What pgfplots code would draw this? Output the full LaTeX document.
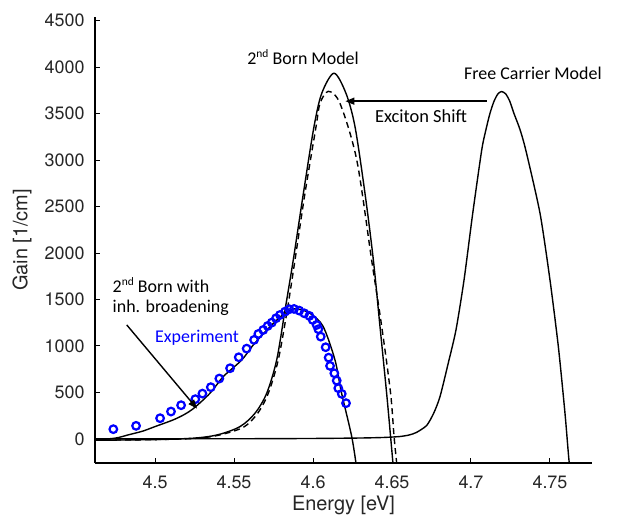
\documentclass[border=0pt]{standalone}
\usepackage{fontspec}
\setmainfont{TeX Gyre Heros}
\newfontfamily\calfont{Carlito}
\usepackage{pgfplots}
\pgfplotsset{compat=1.18}
\usetikzlibrary{arrows.meta}
\definecolor{expblue}{RGB}{0,0,255}
\newcommand{\sups}[1]{\raisebox{0.42em}{\fontsize{11.5}{11.5}\selectfont #1}}

\pgfplotstableread{
E G
4.462 0
4.55 1
4.6 4
4.63 9
4.645 15
4.655 25
4.661 42
4.6656 70
4.672 145
4.6765 280
4.6804 455
4.6856 814
4.6905 1172
4.6956 1710
4.7011 2427
4.7068 3110
4.7095 3330
4.7120 3502
4.7145 3630
4.7170 3712
4.7194 3738
4.7220 3712
4.7245 3635
4.7272 3502
4.7310 3330
4.7348 3100
4.7437 2427
4.7500 1710
4.7553 992
4.7595 276
4.7620 -226
4.7640 -500
}\freecarrier

\pgfplotstableread{
E G
4.462 -15
4.5 -8
4.525 8
4.5400 45
4.5538 132
4.5633 276
4.5707 491
4.5770 849
4.5823 1387
4.5875 1925
4.5939 2642
4.6006 3358
4.6055 3717
4.6133 3935
4.6209 3717
4.6266 3358
4.6329 2642
4.6382 1925
4.6424 1208
4.6466 491
4.6491 25
4.6508 -300
}\bornsolid

\pgfplotstableread{
E G
4.462 -15
4.5 -8
4.525 5
4.5400 38
4.5560 125
4.5650 276
4.5717 491
4.5780 849
4.5837 1387
4.5886 1925
4.5949 2642
4.6019 3358
4.6044 3609
4.6097 3740
4.6171 3609
4.6277 3000
4.6371 1925
4.6435 1208
4.6491 491
4.6513 25
4.6532 -300
}\borndashed

\pgfplotstableread{
E G
4.462 -12
4.475 8
4.4831 43
4.4920 82
4.5 132
4.5130 215
4.5232 312
4.5348 491
4.5432 670
4.5549 849
4.5622 1011
4.5728 1207
4.5812 1340
4.5875 1398
4.5935 1385
4.5991 1340
4.6065 1207
4.6139 849
4.6181 491
4.6245 25
4.6275 -300
}\broadened

\pgfplotstableread{
E G
4.4736 104
4.4880 140
4.5032 222
4.5101 294
4.5165 362
4.5255 427
4.5300 487
4.5353 556
4.5407 649
4.5475 760
4.5530 878
4.5580 971
4.5627 1065
4.5654 1129
4.5685 1172
4.5713 1215
4.5739 1251
4.5766 1298
4.5791 1333
4.5823 1369
4.5850 1395
4.5880 1398
4.5913 1380
4.5945 1351
4.5977 1323
4.5998 1280
4.6023 1226
4.6034 1180
4.6049 1100
4.6080 986
4.6099 874
4.6108 785
4.6135 706
4.6150 627
4.6160 545
4.6182 484
4.6209 384
}\experiment

\begin{document}
\begin{tikzpicture}
\useasboundingbox (-95bp,-54bp) rectangle (529bp,463bp);
\begin{axis}[
  at={(0,0)}, anchor=south west,
  scale only axis, width=497bp, height=446bp,
  xmin=4.462, xmax=4.7766, ymin=-260, ymax=4540,
  axis x line*=bottom, axis y line*=left,
  axis line style={line width=1.3bp, -},
  xtick={4.5,4.55,4.6,4.65,4.7,4.75},
  xticklabels={4.5,4.55,4.6,4.65,4.7,4.75},
  ytick={0,500,1000,1500,2000,2500,3000,3500,4000,4500},
  yticklabels={0,500,1000,1500,2000,2500,3000,3500,4000,4500},
  tick align=inside, major tick length=5bp,
  tick style={line width=1bp, black},
  ticklabel style={font=\fontsize{18}{20}\selectfont, color=black!85},
  xticklabel style={yshift=-9bp},
  yticklabel style={xshift=-7bp},
  every axis x label/.style={at={(axis description cs:0.5,0)}, yshift=-42bp, anchor=center},
  every axis y label/.style={at={(axis description cs:0,0.5)}, xshift=-73bp, anchor=center, rotate=90},
  xlabel={Energy [eV]}, ylabel={Gain [1/cm]},
  label style={font=\fontsize{20}{22}\selectfont, color=black!85},
  clip mode=individual,
]
\addplot[black, line width=1.4bp, smooth, tension=0.4] table[x=E,y=G] {\freecarrier};
\addplot[black, line width=1.4bp, smooth, tension=0.5] table[x=E,y=G] {\bornsolid};
\addplot[black, line width=1.4bp, dash pattern=on 6bp off 4bp, smooth, tension=0.5] table[x=E,y=G] {\borndashed};
\addplot[black, line width=1.4bp, smooth, tension=0.5] table[x=E,y=G] {\broadened};
\addplot[only marks, mark=o, mark size=3.8bp, expblue, line width=2.2bp] table[x=E,y=G] {\experiment};

\node[font=\calfont\fontsize{18}{20}\selectfont] at (axis cs:4.5937,4108) {2\sups{nd} Born Model};
\node[font=\calfont\fontsize{18}{20}\selectfont] at (axis cs:4.7392,3935) {Free Carrier Model};
\node[font=\calfont\fontsize{18.5}{20}\selectfont] at (axis cs:4.6684,3473) {Exciton Shift};
\draw[line width=1.4bp, -{Triangle[length=9bp,width=7bp]}] (axis cs:4.7101,3634) -- (axis cs:4.6205,3634);
\node[font=\calfont\fontsize{18}{20}\selectfont, anchor=west] at (axis cs:4.4710,1656) {2\sups{nd} Born with};
\node[font=\calfont\fontsize{18}{20}\selectfont, anchor=west] at (axis cs:4.4710,1409) {inh. broadening};
\draw[line width=1.4bp, -{Triangle[length=9bp,width=7bp]}] (axis cs:4.4821,1226) -- (axis cs:4.5266,325);
\node[font=\calfont\fontsize{18}{20}\selectfont, text=expblue] at (axis cs:4.5266,1086) {Experiment};
\end{axis}
\end{tikzpicture}
\end{document}
